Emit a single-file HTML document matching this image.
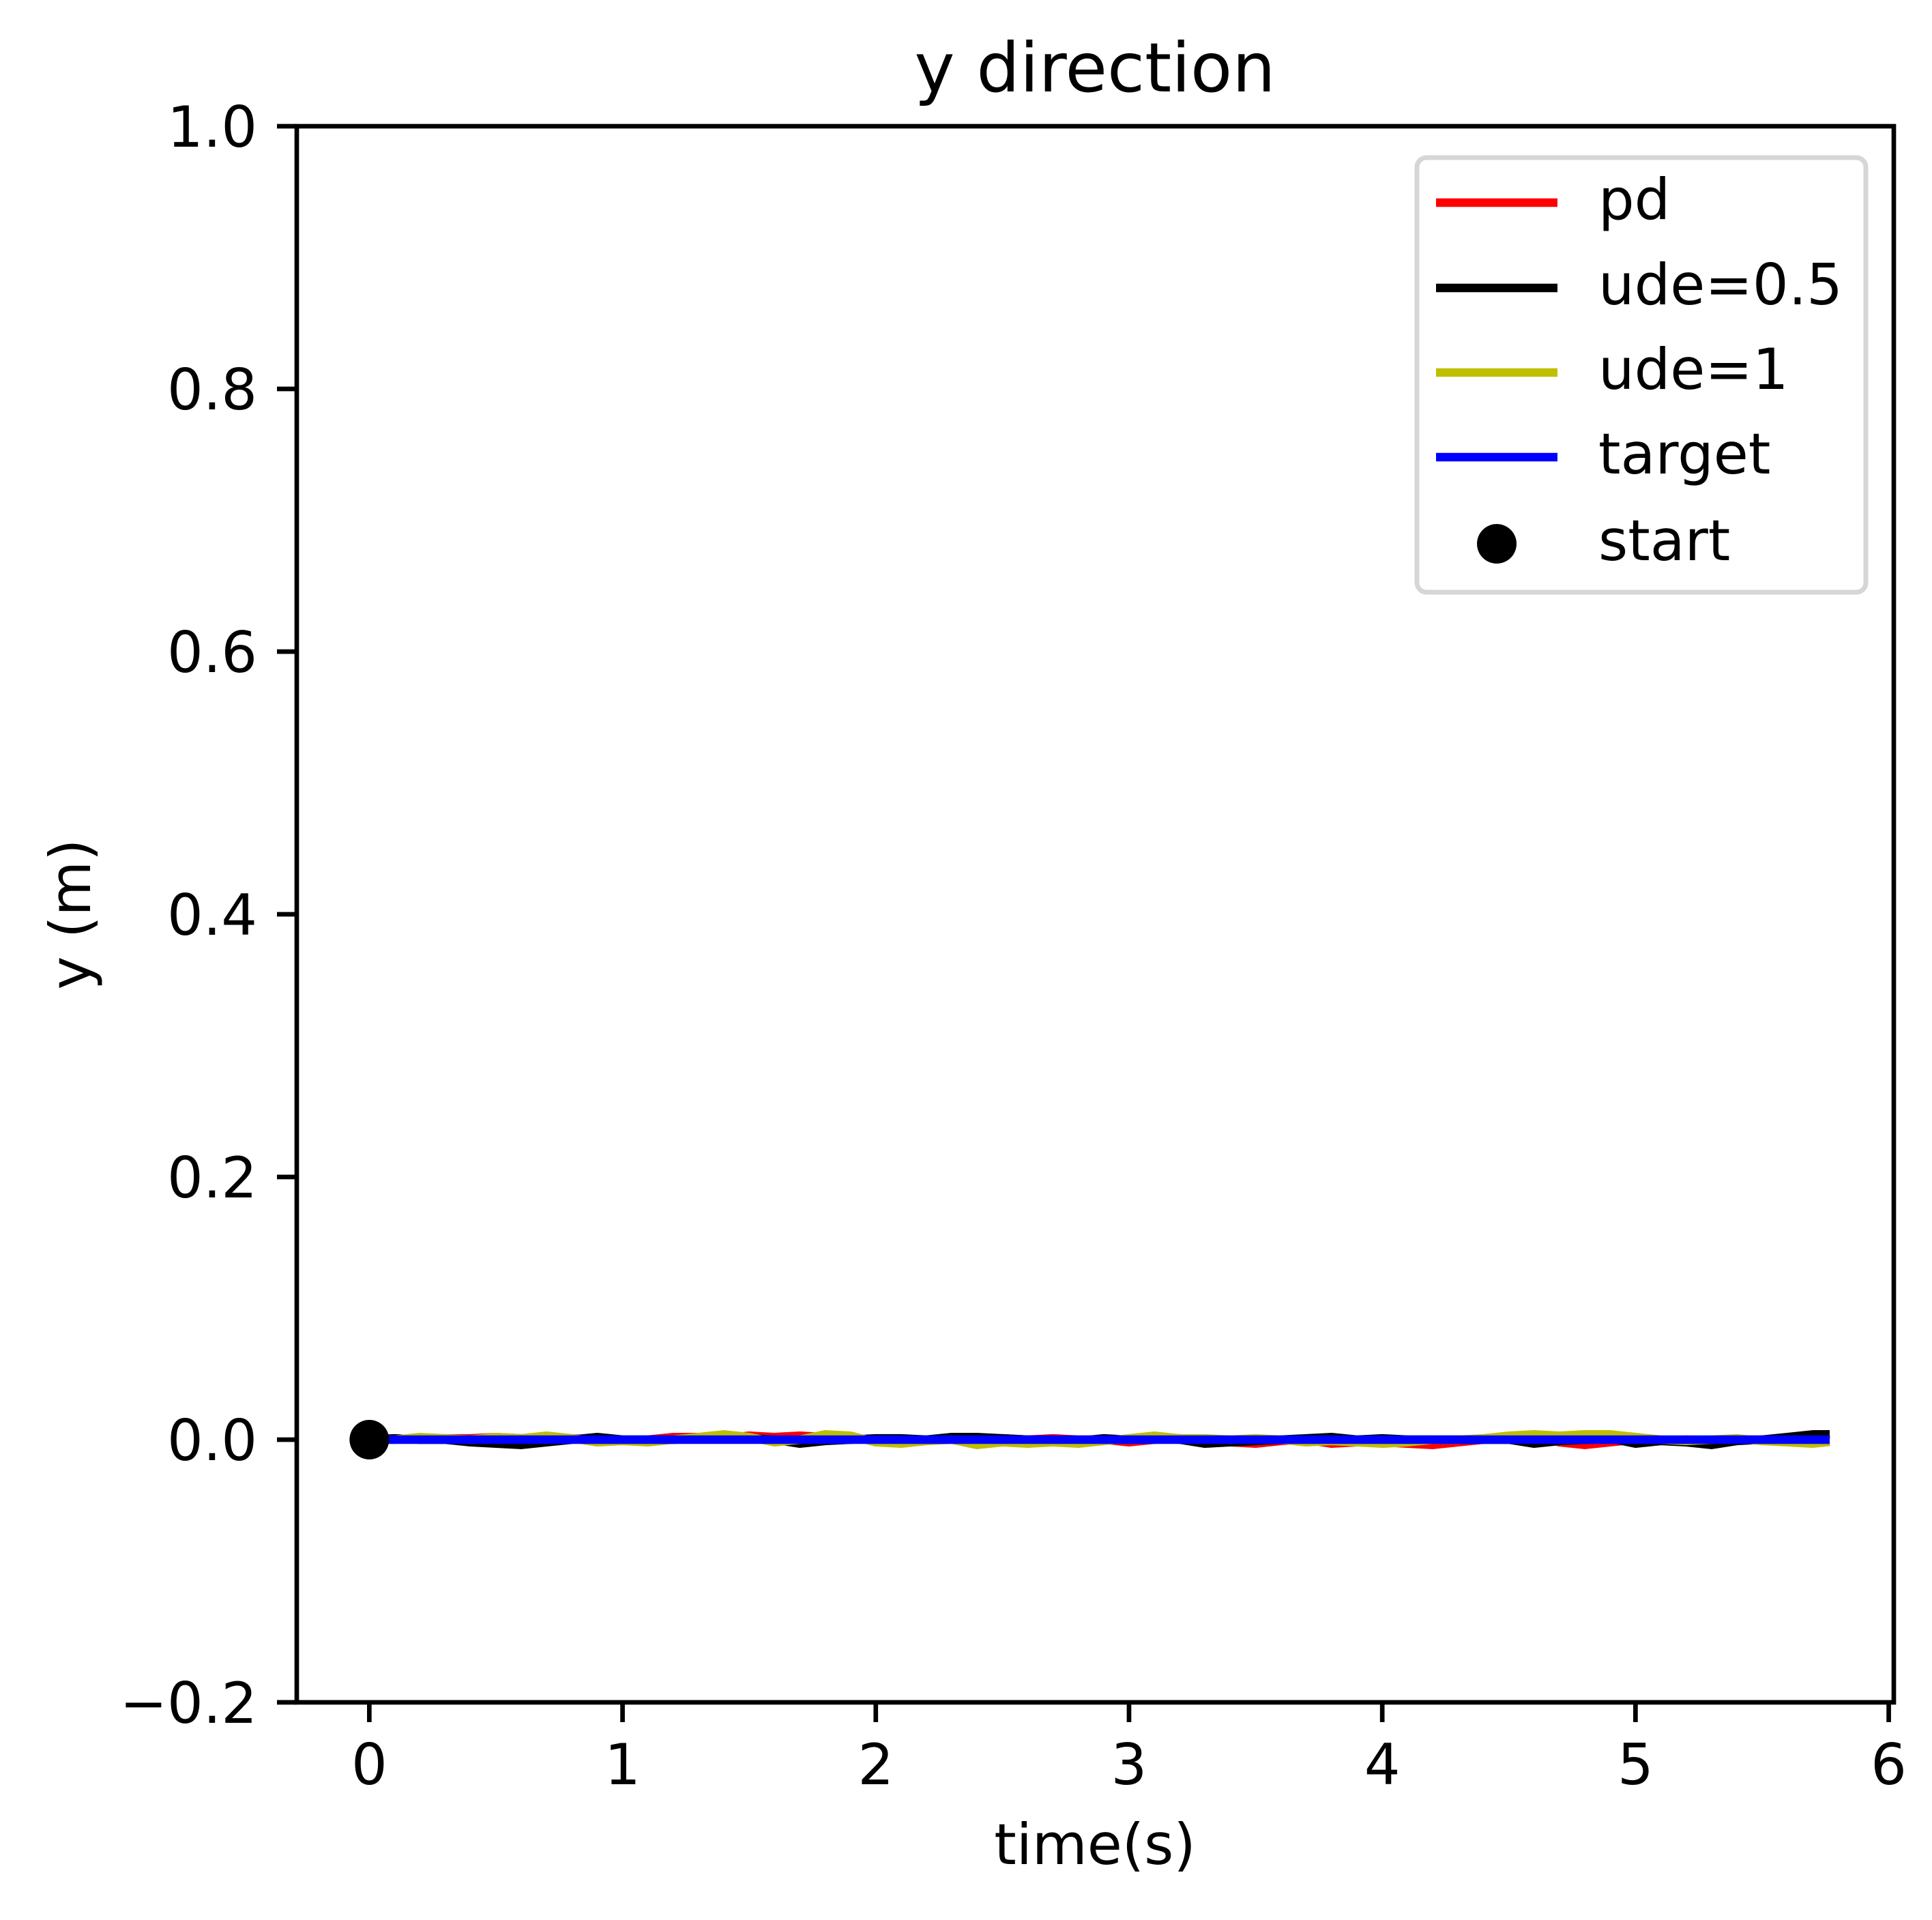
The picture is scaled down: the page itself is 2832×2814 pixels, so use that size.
<!DOCTYPE html>
<html><head><meta charset="utf-8"><style>
html,body{margin:0;padding:0;background:#fff;}
svg text{font-family:"DejaVu Sans","Liberation Sans",sans-serif;fill:#000;}
</style></head><body>
<svg id="chart" width="2832" height="2809" viewBox="0 0 2832 2809" xmlns="http://www.w3.org/2000/svg">
<rect x="0" y="0" width="2832" height="2809" fill="#fff"/>
<g id="marks"></g>
<g id="axes"></g>
<text x="1605" y="134" font-size="100" text-anchor="middle">y direction</text>
<text x="1605" y="2732" font-size="83" text-anchor="middle">time(s)</text>
<text transform="translate(132,1340) rotate(-90)" font-size="83" text-anchor="middle">y (m)</text>
<g>
<rect x="2077" y="231" width="658" height="637" rx="14" fill="#fff" fill-opacity="0.8" stroke="#d6d6d6" stroke-width="7"/>
<line x1="2105" y1="297" x2="2283" y2="297" stroke="#ff0000" stroke-width="12.5"/>
<text x="2343" y="321" font-size="83">pd</text>
<line x1="2105" y1="422" x2="2283" y2="422" stroke="#000" stroke-width="12.5"/>
<text x="2343" y="446" font-size="83">ude=0.5</text>
<line x1="2105" y1="546" x2="2283" y2="546" stroke="#bfbf00" stroke-width="12.5"/>
<text x="2343" y="570" font-size="83">ude=1</text>
<line x1="2105" y1="670" x2="2283" y2="670" stroke="#0000ff" stroke-width="12.5"/>
<text x="2343" y="694" font-size="83">target</text>
<circle cx="2194" cy="797" r="29" fill="#000"/>
<text x="2343" y="821" font-size="83">start</text>
</g>
</svg>
<script>
const times = [0,0.1,0.2,0.3,0.4,0.5,0.6,0.7,0.8,0.9,1.0,1.1,1.2,1.3,1.4,1.5,1.6,1.7,1.8,1.9,2.0,2.1,2.2,2.3,2.4,2.5,2.6,2.7,2.8,2.9,3.0,3.1,3.2,3.3,3.4,3.5,3.6,3.7,3.8,3.9,4.0,4.1,4.2,4.3,4.4,4.5,4.6,4.7,4.8,4.9,5.0,5.1,5.2,5.3,5.4,5.5,5.6,5.7,5.75];
const pdValues = [0,0.001,0,0.001,0.001,0.002,0.001,0,0.001,0,-0.001,0,0.002,0.002,0.001,0.003,0.002,0.003,0.002,0.001,0,0,0,0.001,0,0.001,0,0.001,0,0,-0.002,0,0.001,0,-0.002,-0.003,-0.001,0,-0.003,-0.002,-0.002,-0.003,-0.004,-0.002,0,0.002,0.003,-0.002,-0.004,-0.002,0,-0.001,0,-0.001,0,0,0,0.001,0];
const ude05Values = [0,0.001,0,0,-0.002,-0.003,-0.004,-0.002,0,0.002,0,0,0,0.001,0.002,0.001,0,-0.003,-0.001,0,0.001,0.001,0,0.002,0.002,0.001,0,0,-0.001,0.001,0,0.001,0,-0.003,-0.002,-0.001,0,0.001,0.002,0,0.001,0,0,0,0,0,-0.003,-0.001,0,0.001,-0.003,-0.001,-0.002,-0.004,-0.001,0,0.002,0.004,0.004];
const ude1Values = [0,0,0.002,0.001,0,0.002,0.001,0.003,0.001,-0.002,-0.001,-0.002,0,0.002,0.004,0.002,-0.002,0,0.004,0.003,-0.002,-0.003,-0.001,0,-0.004,-0.002,-0.003,-0.002,-0.003,-0.001,0.001,0.003,0.001,0.001,0,0.001,0,-0.002,-0.001,-0.002,-0.003,-0.002,0,0,0.001,0.003,0.004,0.003,0.004,0.004,0.002,0,-0.001,0,0.001,-0.001,-0.002,-0.003,-0.002];
const targetValues = [0,0];
const targetTimes = [0,5.75];
const startPoint = [0,0];
const xTicks = [0,1,2,3,4,5,6];
const xTickLabels = ["0","1","2","3","4","5","6"];
const yTicks = [-0.2,0,0.2,0.4,0.6,0.8,1.0];
const yTickLabels = ["\u22120.2","0.0","0.2","0.4","0.6","0.8","1.0"];

const X0=435, X1=2776, Y0=185, Y1=2495;
const xMin=-0.2865, xMax=6.02, yMin=-0.2, yMax=1.0;
function sx(v){return X0+(v-xMin)/(xMax-xMin)*(X1-X0);}
function sy(v){return Y1-(v-yMin)/(yMax-yMin)*(Y1-Y0);}
const NS="http://www.w3.org/2000/svg";
const marks=document.getElementById('marks');
const axes=document.getElementById('axes');
function mk(tag,attrs,parent){const e=document.createElementNS(NS,tag);for(const k in attrs)e.setAttribute(k,attrs[k]);parent.appendChild(e);return e;}
function series(ts,vs,color,name){
  const d=ts.map((t,i)=>(i?'L':'M')+sx(t).toFixed(1)+' '+sy(vs[i]).toFixed(1)).join(' ');
  const p=mk('path',{d:d,fill:'none',stroke:color,'stroke-width':12.5,'stroke-linejoin':'round','stroke-linecap':'square'},marks);
  
  
}
series(times,pdValues,'#ff0000','pd-line');
series(times,ude05Values,'#000000','ude-0.5-line');
series(times,ude1Values,'#bfbf00','ude-1-line');
series(targetTimes,targetValues,'#0000ff','target-line');
const sp=mk('circle',{cx:sx(startPoint[0]),cy:sy(startPoint[1]),r:29,fill:'#000'},marks);



const frame=mk('rect',{x:X0,y:Y0,width:X1-X0,height:Y1-Y0,fill:'none',stroke:'#000','stroke-width':6.7},axes);


xTicks.forEach((t,i)=>{
  const x=sx(t);
  const l=mk('line',{x1:x,y1:Y1,x2:x,y2:Y1+29,stroke:'#000','stroke-width':6.7},axes);
  
  
  const tx=mk('text',{x:x,y:Y1+29+29+62,'font-size':83,'text-anchor':'middle'},axes);
  tx.textContent=xTickLabels[i];
  
  
});
yTicks.forEach((t,i)=>{
  const y=sy(t);
  const l=mk('line',{x1:X0-29,y1:y,x2:X0,y2:y,stroke:'#000','stroke-width':6.7},axes);
  
  
  const tx=mk('text',{x:X0-29-29,y:y+30,'font-size':83,'text-anchor':'end'},axes);
  tx.textContent=yTickLabels[i];
  
  
});
</script>
</body></html>
